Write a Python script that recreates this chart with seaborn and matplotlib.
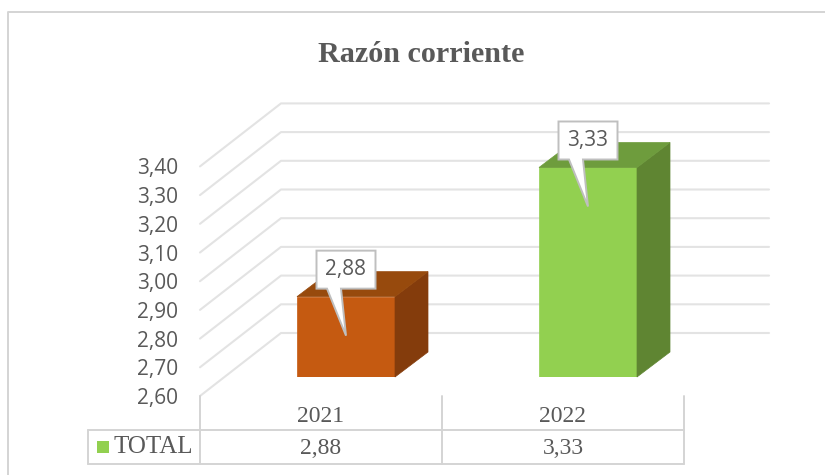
# -*- coding: utf-8 -*-
import matplotlib
matplotlib.use("Agg")
import matplotlib.pyplot as plt
from matplotlib.patches import Polygon, Rectangle
import numpy as np
import seaborn as sns

years = ["2021", "2022"]
values = [2.88, 3.33]
ticks = [2.6, 2.7, 2.8, 2.9, 3.0, 3.1, 3.2, 3.3, 3.4]
series_name = "TOTAL"
title = "Razón corriente"

front_colors = ["#c55a11", "#92d050"]
top_colors = ["#974a0d", "#6e9c3d"]
side_colors = ["#843c0c", "#5f8532"]
GRID = "#e3e3e3"
FRAME = "#d4d4d4"
TEXT = "#595959"

W, H = 825, 475


def comma(v):
    return f"{v:.2f}".replace(".", ",")


def axes_px(fig, x0, x1, y_top, y_bottom):
    return fig.add_axes([x0 / W, 1 - y_bottom / H, (x1 - x0) / W, (y_bottom - y_top) / H])


sns.set_theme(style="white")
plt.rcParams["font.family"] = ["Open Sans", "DejaVu Sans"]
fig = plt.figure(figsize=(W / 100, H / 100), dpi=100)

# front plane of the floor: ticks, walls
ax_f = axes_px(fig, 200, 684, 166.4, 396)
ax_f.set_xlim(-0.5, 1.5)
ax_f.set_ylim(ticks[0], ticks[-1])
ax_f.set_xticks([])
ax_f.set_yticks(ticks, [comma(t) for t in ticks])
ax_f.tick_params(axis="y", length=0, pad=16, labelsize=15, labelcolor=TEXT)
sns.despine(ax=ax_f, left=True, bottom=True)
ax_f.patch.set_alpha(0)

xpp = 2 / 484          # category units per pixel
ypp = (ticks[-1] - ticks[0]) / 229.6  # value units per pixel
for t in ticks:
    ax_f.plot([-0.5, -0.5 + 81 * xpp, 1.5 + 85 * xpp], [t, t + 63 * ypp, t + 63 * ypp],
              color=GRID, lw=1.5, clip_on=False, zorder=1)

# plane of the bars, pushed back into the chart
ax_b = axes_px(fig, 225, 709, 147.4, 377)
ax_b.patch.set_alpha(0)
sns.barplot(x=years, y=values, hue=years, palette=front_colors, width=0.405,
            legend=False, saturation=1, ax=ax_b, zorder=3)
ax_b.set_xlim(-0.5, 1.5)
ax_b.set_ylim(ticks[0], ticks[-1])
ax_b.axis("off")

dx, dy = 33 * xpp, 25 * ypp
for bar, top_c, side_c in zip(ax_b.patches, top_colors, side_colors):
    x0 = bar.get_x()
    x1 = x0 + bar.get_width()
    y1 = bar.get_height()
    y0 = ticks[0]
    bar.set_edgecolor(bar.get_facecolor())
    bar.set_linewidth(0.5)
    ax_b.add_patch(Polygon([(x1, y0), (x1 + dx, y0 + dy), (x1 + dx, y1 + dy), (x1, y1)],
                           fc=side_c, ec=side_c, lw=0.5, clip_on=False, zorder=3))
    ax_b.add_patch(Polygon([(x0, y1), (x0 + dx, y1 + dy), (x1 + dx, y1 + dy), (x1, y1)],
                           fc=top_c, ec=top_c, lw=0.5, clip_on=False, zorder=3))
    # data callout
    xc = (x0 + x1) / 2
    hw = 29.5 * xpp
    low = y1 + 8 * ypp
    high = y1 + 46 * ypp
    shape = [(xc - hw, low), (xc - hw, high), (xc + hw, high), (xc + hw, low),
             (xc - 5 * xpp, low), (xc, y1 - 39 * ypp), (xc - 19 * xpp, low)]
    ax_b.add_patch(Polygon(shape, closed=True, fc="white", ec="#bfbfbf", lw=1.4,
                           clip_on=False, zorder=5))
    ax_b.text(xc, (low + high) / 2, comma(y1), ha="center", va="center", fontsize=15,
              color=TEXT, zorder=6, clip_on=False)

# overlay in pixels for the chart frame, title and data table
ax_t = fig.add_axes([0, 0, 1, 1])
ax_t.set_xlim(0, W)
ax_t.set_ylim(H, 0)
ax_t.axis("off")
ax_t.patch.set_alpha(0)
ax_t.plot([8, 8, 830], [480, 12, 12], color=FRAME, lw=1.4)
ax_t.text(421, 54, title, ha="center", va="center", fontsize=21.7, fontweight="bold",
          family="Liberation Serif", color=TEXT)

for x in [200, 442, 684]:
    ax_t.plot([x, x], [396, 464], color=FRAME, lw=1.4)
ax_t.plot([88, 88], [430, 464], color=FRAME, lw=1.4)
for y in [430, 464]:
    ax_t.plot([88, 684], [y, y], color=FRAME, lw=1.4)
ax_t.add_patch(Rectangle((97, 441), 12, 12, fc=front_colors[1], ec="none"))
ax_t.text(114, 447, series_name, ha="left", va="center", fontsize=18,
          family="Liberation Serif", color=TEXT)
for xc, year, v in zip([321, 563], years, values):
    ax_t.text(xc, 417, year, ha="center", va="center", fontsize=17,
              family="Liberation Serif", color=TEXT)
    ax_t.text(xc, 448, comma(v), ha="center", va="center", fontsize=17,
              family="Liberation Serif", color=TEXT)

fig.savefig("out.png", dpi=100)
